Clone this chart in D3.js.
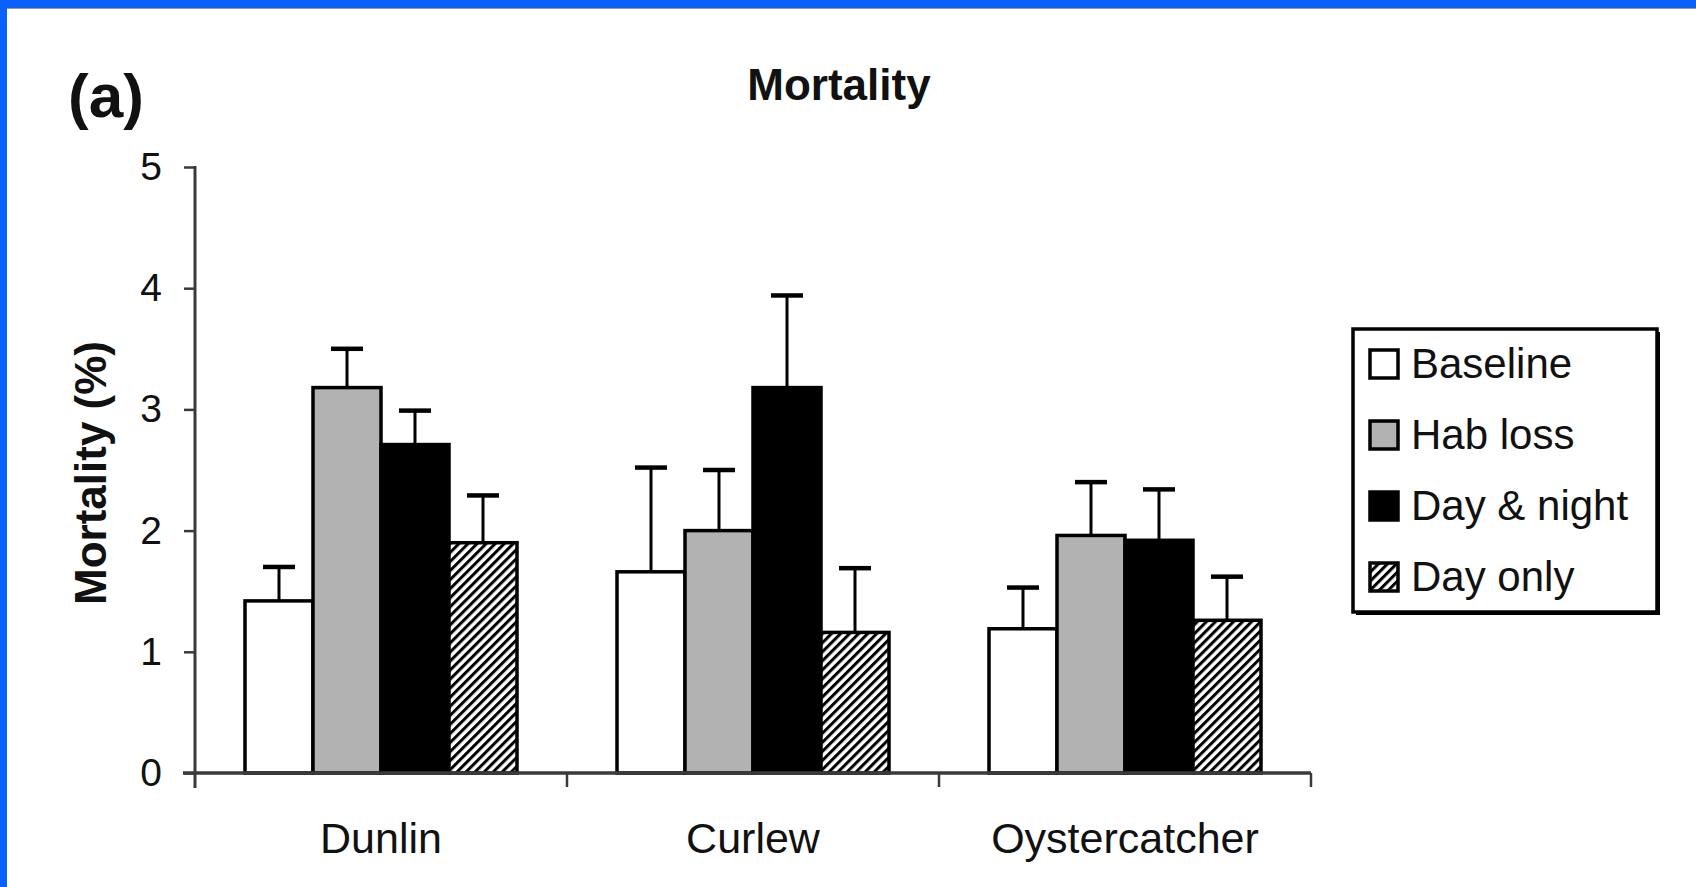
<!DOCTYPE html>
<html>
<head>
<meta charset="utf-8">
<script src="https://cdn.jsdelivr.net/npm/d3@7"></script>
<style>
  html, body { margin: 0; padding: 0; background: #ffffff; }
  svg { display: block; }
  text { font-family: "Liberation Sans", Arial, sans-serif; fill: #111; }
</style>
</head>
<body>
<svg id="chart" width="1696" height="887"></svg>
<script>
// Mortality (%) by species and scenario, with upper standard-error bars
const categories = ["Dunlin", "Curlew", "Oystercatcher"];
const seriesNames = ["Baseline", "Hab loss", "Day & night", "Day only"];
const baseline   = [1.42, 1.66, 1.19];
const habLoss    = [3.18, 2.00, 1.96];
const dayNight   = [2.71, 3.18, 1.92];
const dayOnly    = [1.90, 1.16, 1.26];
const errBaseline = [0.28, 0.86, 0.34];
const errHabLoss  = [0.32, 0.50, 0.44];
const errDayNight = [0.28, 0.76, 0.42];
const errDayOnly  = [0.39, 0.53, 0.36];
const yTicks = [0, 1, 2, 3, 4, 5];

const values = [baseline, habLoss, dayNight, dayOnly];
const errors = [errBaseline, errHabLoss, errDayNight, errDayOnly];
const fills = ["#ffffff", "#b2b2b2", "#000000", "url(#hatch)"];

const svg = d3.select("#chart");
const W = 1696, H = 887;

// frame
svg.append("rect").attr("width", W).attr("height", H).attr("fill", "#ffffff");
svg.append("rect").attr("x", 0).attr("y", 0).attr("width", W).attr("height", 8).attr("fill", "#0a60fb");
svg.append("rect").attr("x", 0).attr("y", 0).attr("width", 7).attr("height", H).attr("fill", "#0a60fb");
svg.append("line").attr("x1", 7).attr("x2", W).attr("y1", 8.5).attr("y2", 8.5)
  .attr("stroke", "#9a9a9a").attr("stroke-width", 1);

// diagonal hatch for "Day only"
const defs = svg.append("defs");
const pat = defs.append("pattern")
  .attr("id", "hatch")
  .attr("patternUnits", "userSpaceOnUse")
  .attr("width", 6.4).attr("height", 10)
  .attr("patternTransform", "rotate(45)");
pat.append("rect").attr("width", 6.4).attr("height", 10).attr("fill", "#ffffff");
pat.append("rect").attr("width", 3).attr("height", 10).attr("fill", "#000000");

const plotLeft = 195, plotRight = 1311, plotTop = 167, plotBottom = 773;

const x0 = d3.scaleBand().domain(categories).range([plotLeft, plotRight]).padding(0);
const x1 = d3.scaleBand().domain(seriesNames).range([50, x0.bandwidth() - 50]).padding(0);
const y = d3.scaleLinear().domain([0, 5]).range([plotBottom, plotTop]);

// bars
const groups = svg.append("g").selectAll("g")
  .data(categories)
  .join("g")
  .attr("transform", d => `translate(${x0(d)},0)`);

groups.each(function (cat, ci) {
  const g = d3.select(this);
  seriesNames.forEach((s, si) => {
    const v = values[si][ci];
    const e = errors[si][ci];
    const bx = x1(s);
    const cx = bx + x1.bandwidth() / 2;
    // error bar (upper only)
    g.append("line")
      .attr("x1", cx).attr("x2", cx)
      .attr("y1", y(v)).attr("y2", y(v + e))
      .attr("stroke", "#000").attr("stroke-width", 3);
    g.append("line")
      .attr("x1", cx - 16).attr("x2", cx + 16)
      .attr("y1", y(v + e)).attr("y2", y(v + e))
      .attr("stroke", "#000").attr("stroke-width", 4.5);
    g.append("rect")
      .attr("x", bx).attr("y", y(v))
      .attr("width", x1.bandwidth()).attr("height", y(0) - y(v))
      .attr("fill", fills[si])
      .attr("stroke", "#000").attr("stroke-width", 3.5);
  });
});

// y axis
const yAxis = svg.append("g").attr("transform", `translate(${plotLeft},0)`)
  .call(d3.axisLeft(y).tickValues(yTicks).tickSize(11).tickPadding(22).tickFormat(d3.format("d")));
yAxis.select(".domain").remove();
yAxis.append("line").attr("x1", 0).attr("x2", 0).attr("y1", plotTop - 1).attr("y2", plotBottom + 15)
  .attr("stroke", "#3a3a3a").attr("stroke-width", 3);
yAxis.selectAll(".tick line").attr("stroke", "#3a3a3a").attr("stroke-width", 2.5);
yAxis.selectAll(".tick text")
  .style("font-size", "39px").attr("fill", "#111");

// x axis: group boundaries ticked below the line
const boundaries = categories.map(c => x0(c) + x0.bandwidth());
const xAxis = svg.append("g").attr("transform", `translate(0,${plotBottom})`);
xAxis.append("line").attr("x1", plotLeft - 12).attr("x2", plotRight).attr("y1", 0).attr("y2", 0)
  .attr("stroke", "#3a3a3a").attr("stroke-width", 3.5);
xAxis.selectAll("line.bnd").data(boundaries).join("line")
  .attr("class", "bnd")
  .attr("x1", d => d).attr("x2", d => d).attr("y1", 0).attr("y2", 14)
  .attr("stroke", "#3a3a3a").attr("stroke-width", 2.5);
xAxis.selectAll("text").data(categories).join("text")
  .attr("x", d => x0(d) + x0.bandwidth() / 2)
  .attr("y", 80)
  .attr("text-anchor", "middle")
  .style("font-size", "43px")
  .text(d => d);

// titles
svg.append("text").attr("x", 68).attr("y", 117)
  .style("font-size", "62px").style("font-weight", "bold").text("(a)");
svg.append("text").attr("x", 839).attr("y", 100).attr("text-anchor", "middle")
  .style("font-size", "44px").style("font-weight", "bold").text("Mortality");
svg.append("text")
  .attr("transform", "translate(106,473) rotate(-90)")
  .attr("text-anchor", "middle")
  .style("font-size", "44px").style("font-weight", "bold")
  .text("Mortality (%)");

// legend
const lg = svg.append("g").attr("transform", "translate(1353,329)");
lg.append("rect").attr("x", 3).attr("y", 3).attr("width", 304).attr("height", 283).attr("fill", "#000");
lg.append("rect").attr("x", 0).attr("y", 0).attr("width", 304).attr("height", 283)
  .attr("fill", "#fff").attr("stroke", "#000").attr("stroke-width", 3.5);
const items = lg.selectAll("g.item").data(seriesNames).join("g")
  .attr("class", "item")
  .attr("transform", (d, i) => `translate(0,${i * 71})`);
items.append("rect")
  .attr("x", 17).attr("y", 21).attr("width", 28).attr("height", 28)
  .attr("fill", (d, i) => fills[i]).attr("stroke", "#000").attr("stroke-width", 3.5);
items.append("text")
  .attr("x", 58).attr("y", 49)
  .style("font-size", "42px")
  .text(d => d);
</script>
</body>
</html>
